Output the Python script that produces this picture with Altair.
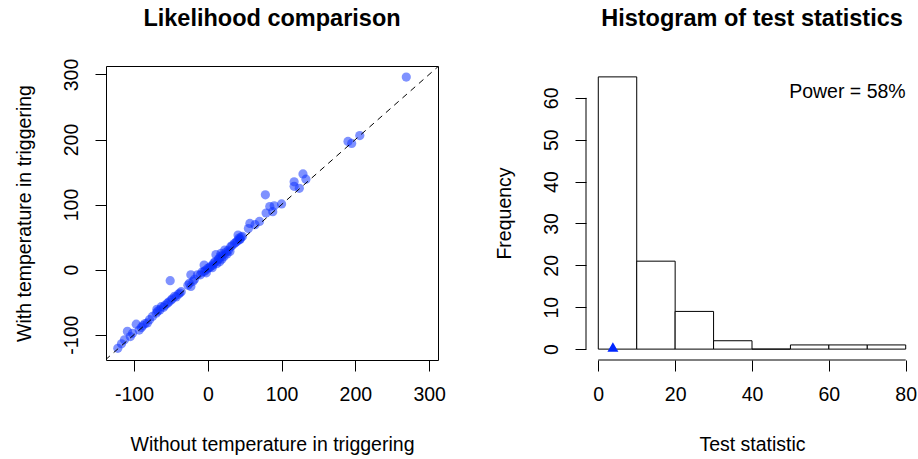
import altair as alt
import pandas as pd

FONT = "Liberation Sans"

# ---- data: likelihood comparison ----
x_without = [269, 190, 195, 206, 129, 117, 117, 124, 133, 78, 84, 88, 90, 100, 79,
             57, 55, 64, 70, 41, 43, 36, 31, 23, 18, 11, 14, 7, 2, -5, -5, -14, -23,
             -25, -23, -51, -38, -43, -50, -55, -63, -69, -70, -79, -82, -97, -93,
             -102, -109, -113, -122,
             -27, -20, -18, -10, -8, -3, 0, 4, 8, 10, 12, 15, 17, 20, 22, 25, 28, 30,
             33, 38, 40, 42, 44, 45, 47, -68, -65, -60, -58, -53, -48, -45, -40, -36,
             -75, -85, -88, -90, -105, -117, 16, 19, 26, -2, 6]
y_with = [296, 197, 194, 206, 147, 135, 128, 125, 139, 115, 97, 89, 98, 101, 87,
          71, 63, 69, 74, 53, 46, 40, 35, 30, 25, 23, 15, 7, 3, 7, -3, -8, -8,
          -21, -26, -17, -36, -42, -47, -52, -57, -61, -67, -77, -82, -84, -93,
          -98, -95, -108, -121,
          -24, -18, -15, -8, -4, -1, 2, 5, 10, 12, 9, 17, 20, 22, 20, 27, 30, 28,
          37, 42, 44, 48, 47, 50, 51, -64, -62, -58, -55, -50, -45, -41, -38, -34,
          -72, -83, -86, -89, -103, -114, 12, 16, 24, -5, 3]
diag_vals = [-150, 330]
scatter_ticks = [-100, 0, 100, 200, 300]

# ---- data: histogram ----
bin_start = [0, 10, 20, 30, 40, 50, 60, 70]
bin_end = [10, 20, 30, 40, 50, 60, 70, 80]
counts = [65, 21, 9, 2, 0, 1, 1, 1]
observed_stat = [3.8]
power_label = ["Power = 58%"]
hist_x_ticks = [0, 20, 40, 60, 80]
hist_y_ticks = [0, 10, 20, 30, 40, 50, 60]

W, H = 332, 294
LAB = 19.5
TIT = 23.5

axis_common = dict(domain=False, grid=False, ticks=True, tickSize=11, tickColor="black",
                   tickWidth=1, labelFont=FONT, labelFontSize=LAB, labelColor="black",
                   titleFont=FONT, titleFontSize=LAB, titleFontWeight="normal",
                   titleColor="black", labelExpr="'' + datum.value")
x_axis_kw = dict(labelPadding=14, titlePadding=32, labelAngle=0)
y_axis_kw = dict(labelAngle=-90, labelAlign="center", labelBaseline="bottom",
                 labelPadding=14, titlePadding=27)


def title(text, offset):
    return alt.TitleParams(text=text, font=FONT, fontSize=TIT, fontWeight="bold",
                           color="black", anchor="middle", offset=offset,
                           baseline="alphabetic")


# ---- left panel ----
scat_df = pd.DataFrame({"x": x_without, "y": y_with})
diag_df = pd.DataFrame({"v": diag_vals})
xs = alt.Scale(domain=[-138, 312], nice=False, zero=False)
ys = alt.Scale(domain=[-139, 313], nice=False, zero=False)

points = alt.Chart(scat_df).mark_circle(size=85, color="#0a2eff", opacity=0.52).encode(
    x=alt.X("x:Q", scale=xs,
            axis=alt.Axis(values=scatter_ticks, title="Without temperature in triggering",
                          **x_axis_kw, **axis_common)),
    y=alt.Y("y:Q", scale=ys,
            axis=alt.Axis(values=scatter_ticks, title="With temperature in triggering",
                          **y_axis_kw, **axis_common)),
)
diag = alt.Chart(diag_df).mark_line(color="black", strokeWidth=1, strokeDash=[6, 5],
                                    clip=True).encode(
    x=alt.X("v:Q", scale=xs),
    y=alt.Y("v:Q", scale=ys),
)
left = alt.layer(points, diag).properties(
    width=W, height=H, title=title("Likelihood comparison", 9),
    view=alt.ViewBackground(stroke="black", strokeWidth=1, fill="white"),
)

# ---- right panel ----
hist_df = pd.DataFrame({"start": bin_start, "end": bin_end, "count": counts})
obs_df = pd.DataFrame({"stat": observed_stat})
txt_df = pd.DataFrame({"label": power_label})
hx = alt.Scale(domain=[-3.2, 83.2], nice=False, zero=False)
hy = alt.Scale(domain=[-2.6, 67.6], nice=False, zero=False)

bars = alt.Chart(hist_df).mark_bar(fill="white", stroke="black", strokeWidth=1).encode(
    x=alt.X("start:Q", scale=hx,
            axis=alt.Axis(values=hist_x_ticks, title="Test statistic",
                          **x_axis_kw, **axis_common)),
    x2="end:Q",
    y=alt.Y("count:Q", scale=hy,
            axis=alt.Axis(values=hist_y_ticks, title="Frequency",
                          **y_axis_kw, **axis_common)),
    y2=alt.datum(0),
)
x_line = alt.Chart(obs_df).mark_rule(color="black", strokeWidth=1).encode(
    x=alt.datum(hist_x_ticks[0]), x2=alt.datum(hist_x_ticks[-1]),
    y=alt.datum(-2.6),
)
y_line = alt.Chart(obs_df).mark_rule(color="black", strokeWidth=1).encode(
    x=alt.datum(-3.2), y=alt.datum(hist_y_ticks[0]), y2=alt.datum(hist_y_ticks[-1]),
)
marker = alt.Chart(obs_df).mark_point(shape="triangle-up", filled=True, color="#0026ff",
                                      size=120, opacity=1).encode(
    x=alt.X("stat:Q", scale=hx), y=alt.datum(0.5),
)
power = alt.Chart(txt_df).mark_text(align="right", baseline="middle", font=FONT,
                                    fontSize=LAB, color="black").encode(
    x=alt.datum(80), y=alt.datum(61.5), text="label:N",
)
right = alt.layer(bars, x_line, y_line, marker, power).properties(
    width=W, height=H, title=title("Histogram of test statistics", 17),
    view=alt.ViewBackground(strokeWidth=0, fill="white"),
)

chart = alt.hconcat(left, right, spacing=148).properties(
    bounds="flush",
    padding={"left": 13, "top": 6, "right": 0, "bottom": 0},
    background="white",
)

chart.save("out.html", embed_options={"renderer": "svg", "actions": False})
